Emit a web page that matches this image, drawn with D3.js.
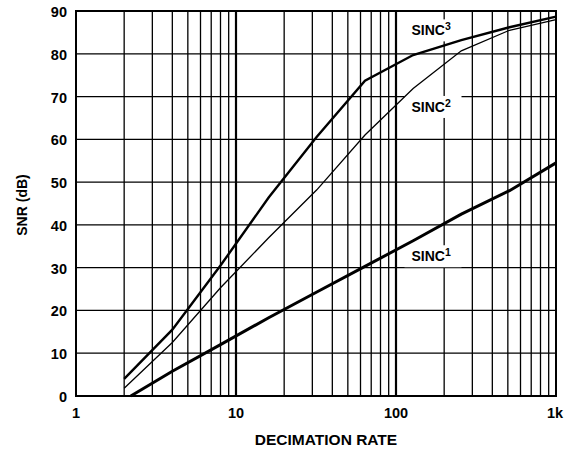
<!DOCTYPE html>
<html>
<head>
<meta charset="utf-8">
<script src="https://cdn.jsdelivr.net/npm/d3@7"></script>
<style>
  body { margin: 0; background: #fff; }
  text { font-family: Arial, "Liberation Sans", sans-serif; font-weight: bold; fill: #000; }
</style>
</head>
<body>
<div id="chart"></div>
<script>
// values
let rates = [2, 4, 8, 16, 32, 64, 128, 256, 512, 1000];
let sinc1Rates = [2.2, 4, 8, 16, 32, 64, 128, 256, 512, 1000];
let sinc1 = [0, 5.8, 12, 18.3, 24.3, 30.3, 36.3, 42.5, 48, 54.5];
let sinc2 = [1.8, 12.5, 25.3, 37, 48.2, 61, 71.9, 80.7, 85.5, 88];
let sinc3 = [4, 15.5, 30.5, 46.4, 60.6, 73.7, 79.7, 83.2, 86.2, 88.7];
let yTicks = [0, 10, 20, 30, 40, 50, 60, 70, 80, 90];
let xTicks = [1, 10, 100, 1000];
let xTickLabels = ["1", "10", "100", "1k"];

let width = 566, height = 451;
let margin = {left: 76, right: 10, top: 11, bottom: 55};

let svg = d3.select("#chart").append("svg")
    .attr("width", width)
    .attr("height", height);

let x = d3.scaleLog().domain([1, 1000]).range([margin.left, width - margin.right]);
let y = d3.scaleLinear().domain([0, 90]).range([height - margin.bottom, margin.top]);

// minor vertical grid 2..9 in each decade
let minor = [];
[1, 10, 100].forEach(d => { for (let k = 2; k <= 9; k++) minor.push(d * k); });

svg.append("g").selectAll("line")
    .data(minor)
    .enter().append("line")
    .attr("x1", d => x(d)).attr("x2", d => x(d))
    .attr("y1", y(0)).attr("y2", y(90))
    .attr("stroke", "#000")
    .attr("stroke-width", 1.3);

svg.append("g").selectAll("line")
    .data([10, 100])
    .enter().append("line")
    .attr("x1", d => x(d)).attr("x2", d => x(d))
    .attr("y1", y(0)).attr("y2", y(90))
    .attr("stroke", "#000")
    .attr("stroke-width", 2.2);

svg.append("g").selectAll("line")
    .data(yTicks)
    .enter().append("line")
    .attr("x1", x(1)).attr("x2", x(1000))
    .attr("y1", d => y(d)).attr("y2", d => y(d))
    .attr("stroke", "#000")
    .attr("stroke-width", 1.3);

// curve labels with white backing (drawn before curves)
let labels = [
    {t: "SINC", sup: "3", xv: 125, yv: 84.3},
    {t: "SINC", sup: "2", xv: 125, yv: 66.4},
    {t: "SINC", sup: "1", xv: 125, yv: 31.5}
];

labels.forEach(l => {
    let g = svg.append("g");
    g.append("rect")
        .attr("x", x(l.xv) - 7)
        .attr("y", y(l.yv) - 16)
        .attr("width", 57)
        .attr("height", 22)
        .attr("fill", "#fff");
    let t = g.append("text")
        .attr("x", x(l.xv))
        .attr("y", y(l.yv))
        .attr("font-size", 14);
    t.append("tspan").text(l.t);
    t.append("tspan").attr("dy", -5).attr("font-size", 10.5).text(l.sup);
});

// frame
svg.append("rect")
    .attr("x", x(1)).attr("y", y(90))
    .attr("width", x(1000) - x(1))
    .attr("height", y(0) - y(90))
    .attr("fill", "none")
    .attr("stroke", "#000")
    .attr("stroke-width", 2);

// curves
let line = d3.line().x(d => x(d[0])).y(d => y(d[1]));

let series = [
    {xs: sinc1Rates, ys: sinc1, w: 3},
    {xs: rates, ys: sinc2, w: 1.3},
    {xs: rates, ys: sinc3, w: 2.4}
];

series.forEach(s => {
    svg.append("path")
        .datum(s.xs.map((r, i) => [r, s.ys[i]]))
        .attr("d", line)
        .attr("fill", "none")
        .attr("stroke", "#000")
        .attr("stroke-width", s.w)
        .attr("stroke-linejoin", "miter");
});

// y tick labels
svg.append("g").selectAll("text")
    .data(yTicks)
    .enter().append("text")
    .attr("x", margin.left - 9)
    .attr("y", d => y(d) + 6)
    .attr("text-anchor", "end")
    .attr("font-size", 14.5)
    .text(d => d);

// x tick labels
svg.append("g").selectAll("text")
    .data(xTicks)
    .enter().append("text")
    .attr("x", (d, i) => x(d) - (i === 3 ? 1 : 0))
    .attr("y", y(0) + 22)
    .attr("text-anchor", "middle")
    .attr("font-size", 14.5)
    .text((d, i) => xTickLabels[i]);

svg.append("text")
    .attr("x", 326)
    .attr("y", 445)
    .attr("text-anchor", "middle")
    .attr("font-size", 15.5)
    .text("DECIMATION RATE");

svg.append("text")
    .attr("transform", "translate(27," + 205 + ") rotate(-90)")
    .attr("text-anchor", "middle")
    .attr("font-size", 14)
    .text("SNR (dB)");
</script>
</body>
</html>
